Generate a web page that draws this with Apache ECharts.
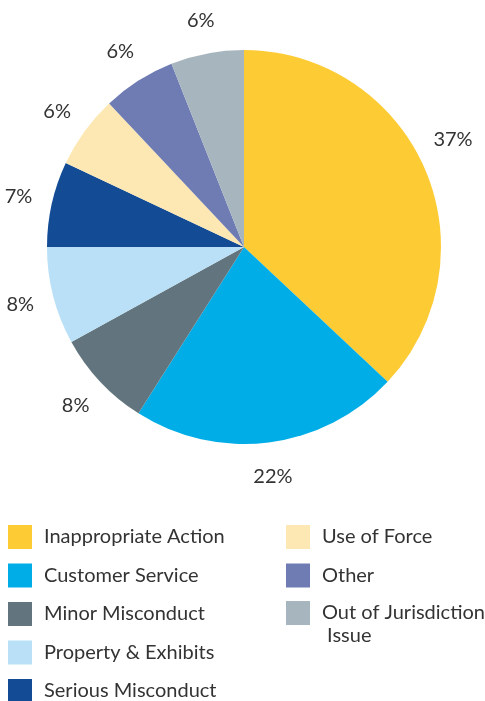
<!DOCTYPE html>
<html>
<head>
<meta charset="utf-8">
<script src="https://cdn.jsdelivr.net/npm/echarts@6/dist/echarts.min.js"></script>
<style>
  html, body { margin: 0; padding: 0; background: #ffffff; }
  #chart { width: 485px; height: 701px; }
</style>
</head>
<body>
<div id="chart"></div>
<script>
// Complaint categories and their share of the total (%)
const categories = [
  'Inappropriate Action',
  'Customer Service',
  'Minor Misconduct',
  'Property & Exhibits',
  'Serious Misconduct',
  'Use of Force',
  'Other',
  'Out of Jurisdiction\n Issue'
];
const shares = [37, 22, 8, 8, 7, 6, 6, 6];
const colors = ['#fdcb33', '#00ade6', '#62757e', '#b9e0f6', '#134c94', '#fde8b3', '#6e7cb3', '#a7b5be'];

const FONT = 'Lato, "Noto Sans", sans-serif';
const TEXT = '#333333';

const pieData = categories.map((name, i) => ({
  name: name,
  value: shares[i],
  itemStyle: { color: colors[i] }
}));

// Transparent ring used only to carry the percentage labels around the pie
const labelData = categories.map((name, i) => ({
  name: name,
  value: shares[i],
  label: i === 0 ? { offset: [-3, -16] } : undefined
}));

const legendItems = categories.map((name, i) => ({
  name: name,
  itemStyle: { color: colors[i] }
}));

const legendBase = {
  orient: 'vertical',
  height: 300,
  padding: 0,
  itemWidth: 24,
  itemHeight: 24,
  itemGap: 14.5,
  icon: 'rect',
  selectedMode: false,
  textStyle: {
    fontFamily: FONT,
    fontSize: 20,
    color: TEXT,
    lineHeight: 23,
    padding: [0, 0, 0, 7]
  }
};

const chart = echarts.init(document.getElementById('chart'), null, { renderer: 'canvas' });
chart.setOption({
  backgroundColor: '#ffffff',
  animation: false,
  legend: [
    Object.assign({}, legendBase, { left: 8, top: 525, data: legendItems.slice(0, 5) }),
    Object.assign({}, legendBase, { left: 286, top: 525, data: legendItems.slice(5, 7) }),
    // two-line entry: first line kept level with its swatch
    Object.assign({}, legendBase, {
      left: 286,
      top: 578.5,
      data: legendItems.slice(7),
      textStyle: Object.assign({}, legendBase.textStyle, {
        padding: [23, 0, 0, 7],
        rich: {}
      })
    })
  ],
  series: [
    {
      type: 'pie',
      center: [244, 247],
      radius: [0, 197],
      startAngle: 90,
      clockwise: true,
      silent: true,
      label: { show: false },
      labelLine: { show: false },
      itemStyle: { borderWidth: 0 },
      data: pieData
    },
    {
      type: 'pie',
      center: [244, 247],
      radius: [197, 259],
      startAngle: 90,
      clockwise: true,
      silent: true,
      itemStyle: { color: 'rgba(0,0,0,0)', borderWidth: 0 },
      label: {
        show: true,
        position: 'inside',
        formatter: '{c}%',
        fontFamily: FONT,
        fontSize: 20,
        color: TEXT
      },
      labelLine: { show: false },
      data: labelData
    }
  ]
});
</script>
</body>
</html>
